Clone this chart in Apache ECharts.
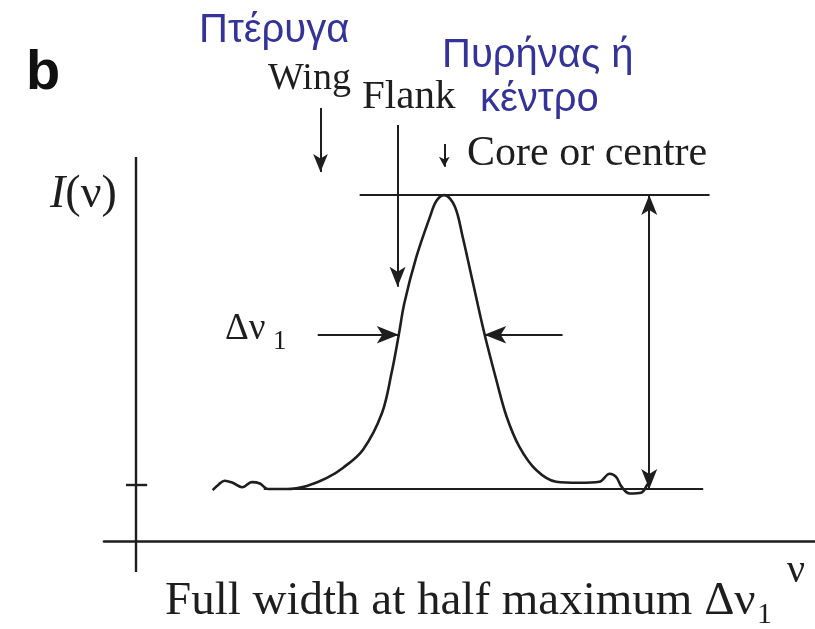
<!DOCTYPE html>
<html>
<head>
<meta charset="utf-8">
<script src="https://cdn.jsdelivr.net/npm/echarts@6/dist/echarts.min.js"></script>
<style>
  html, body { margin: 0; padding: 0; background: #fff; }
  #chart { width: 815px; height: 629px; }
</style>
</head>
<body>
<div id="chart"></div>
<script>
// Spectral line profile I(ν): frequency (arbitrary units) and intensity (peak = 100)
const nu = [9.6, 10.4, 11.1, 12.1, 13.3, 14.5, 15.5, 16.5, 18.9, 21.4, 23.9, 25.9, 28.4, 30.8,
            32.0, 32.9, 33.6, 35.1, 36.8, 37.6, 38.6, 39.9, 40.9, 42.1, 43.6, 45.1, 46.4, 48.0,
            50.1, 52.6, 55.5, 58.0, 59.3, 60.1, 60.8, 61.8, 63.3, 64.0, 64.4];
const intensity = [14.7, 16.4, 17.4, 16.8, 15.5, 17.0, 16.6, 15.0, 15.0, 15.9, 18.2, 21.1, 26.3, 37.0,
                   48.6, 59.6, 68.8, 82.1, 93.7, 98.3, 100, 96.8, 87.9, 75.5, 60.1, 46.6, 35.9, 27.2,
                   20.5, 17.1, 16.8, 17.1, 19.4, 18.5, 15.6, 13.7, 14.0, 16.2, 17.4];

// Reference levels
const continuumLevel = 15;
const peakLevel = 100;
const halfWidthLevel = 59.6;
const axisTickLevel = 16.2;

// Guide lines [x1, y1, x2, y2]
const intensityAxis = [0, -9, 0, 111];
const continuumLine = [16, continuumLevel, 71, continuumLevel];
const peakLine = [28, peakLevel, 71.8, peakLevel];
const depthArrow = [64.25, continuumLevel, 64.25, peakLevel];
const fwhmLeftArrow = [22.75, halfWidthLevel, 32.9, halfWidthLevel];
const fwhmRightArrow = [53.4, halfWidthLevel, 43.6, halfWidthLevel];
const wingArrow = [23.1, 125.2, 23.1, 106.7];
const flankArrow = [32.75, 120.3, 32.75, 73.5];
const coreArrow = [38.6, 114.8, 38.6, 108.2];
const yTick = [-1.25, axisTickLevel, 1.4, axisTickLevel];

const INK = '#1e1e1e';
const BLUE = '#333399';
const SERIF = '"Liberation Serif", "Times New Roman", serif';
const SANS = '"Liberation Sans", Arial, sans-serif';

function seg(s, startSym, endSym, size, width) {
  return [
    { coord: [s[0], s[1]], symbol: startSym, symbolSize: size },
    { coord: [s[2], s[3]], symbol: endSym, symbolSize: size, lineStyle: { width: width } }
  ];
}

const chart = echarts.init(document.getElementById('chart'), null, { renderer: 'canvas' });

chart.setOption({
  animation: false,
  backgroundColor: '#ffffff',
  grid: { left: 104, right: 0, top: 100, bottom: 57, containLabel: false, outerBoundsMode: 'none' },
  xAxis: {
    type: 'value', min: -4, max: 85,
    axisLine: { show: true, onZero: true, lineStyle: { color: INK, width: 2.6 } },
    axisTick: { show: false }, axisLabel: { show: false }, splitLine: { show: false }
  },
  yAxis: {
    type: 'value', min: -9, max: 127.5,
    axisLine: { show: false },
    axisTick: { show: false }, axisLabel: { show: false }, splitLine: { show: false }
  },
  series: [{
    type: 'line',
    data: nu.map((x, i) => [x, intensity[i]]),
    smooth: 0.35,
    showSymbol: false,
    symbol: 'none',
    silent: true,
    lineStyle: { color: INK, width: 2.6 },
    markLine: {
      silent: true,
      animation: false,
      label: { show: false },
      emphasis: { disabled: true },
      lineStyle: { color: INK, width: 2, type: 'solid' },
      data: [
        seg(intensityAxis, 'none', 'none', 0, 2.4),
        seg(continuumLine, 'none', 'none', 0, 2),
        seg(peakLine, 'none', 'none', 0, 2),
        seg(depthArrow, 'arrow', 'arrow', [12, 20], 2),
        seg(fwhmLeftArrow, 'none', 'arrow', [13, 22], 2),
        seg(fwhmRightArrow, 'none', 'arrow', [13, 22], 2),
        seg(wingArrow, 'none', 'arrow', [11, 18], 2),
        seg(flankArrow, 'none', 'arrow', [12, 20], 2),
        seg(coreArrow, 'none', 'arrow', [8, 10], 2),
        seg(yTick, 'none', 'none', 0, 2.4)
      ]
    }
  }],
  graphic: [
    { type: 'text', x: 26, y: 74, style: { text: 'b', font: 'bold 56px ' + SANS, fill: '#111', textVerticalAlign: 'middle' } },
    { type: 'text', x: 199, y: 31, style: { text: 'Πτέρυγα', font: '40px ' + SANS, fill: BLUE, textVerticalAlign: 'middle' } },
    { type: 'text', x: 442, y: 56, style: { text: 'Πυρήνας ή', font: '40px ' + SANS, fill: BLUE, textVerticalAlign: 'middle' } },
    { type: 'text', x: 480, y: 100, style: { text: 'κέντρο', font: '40px ' + SANS, fill: BLUE, textVerticalAlign: 'middle' } },
    { type: 'text', x: 268, y: 79, style: { text: 'Wing', font: '38px ' + SERIF, fill: INK, textVerticalAlign: 'middle' } },
    { type: 'text', x: 362, y: 97, style: { text: 'Flank', font: '41px ' + SERIF, fill: INK, textVerticalAlign: 'middle' } },
    { type: 'text', x: 467, y: 154, style: { text: 'Core or centre', font: '42px ' + SERIF, fill: INK, textVerticalAlign: 'middle' } },
    { type: 'text', x: 50, y: 195, style: { text: '{it|I}(ν)', font: '46px ' + SERIF, fill: INK, textVerticalAlign: 'middle',
        rich: { it: { fontStyle: 'italic', fontFamily: 'Liberation Serif', fontSize: 46, fill: INK } } } },
    { type: 'text', x: 225, y: 329, style: { text: 'Δν', font: '37px ' + SERIF, fill: INK, textVerticalAlign: 'middle' } },
    { type: 'text', x: 273, y: 342, style: { text: '1', font: '27px ' + SERIF, fill: INK, textVerticalAlign: 'middle' } },
    { type: 'text', x: 165, y: 602, style: { text: 'Full width at half maximum Δν', font: '47px ' + SERIF, fill: INK, textVerticalAlign: 'middle' } },
    { type: 'text', x: 757, y: 615, style: { text: '1', font: '30px ' + SERIF, fill: INK, textVerticalAlign: 'middle' } },
    { type: 'text', x: 787, y: 571, style: { text: 'ν', font: '40px ' + SERIF, fill: INK, textVerticalAlign: 'middle' } }
  ]
});
</script>
</body>
</html>
